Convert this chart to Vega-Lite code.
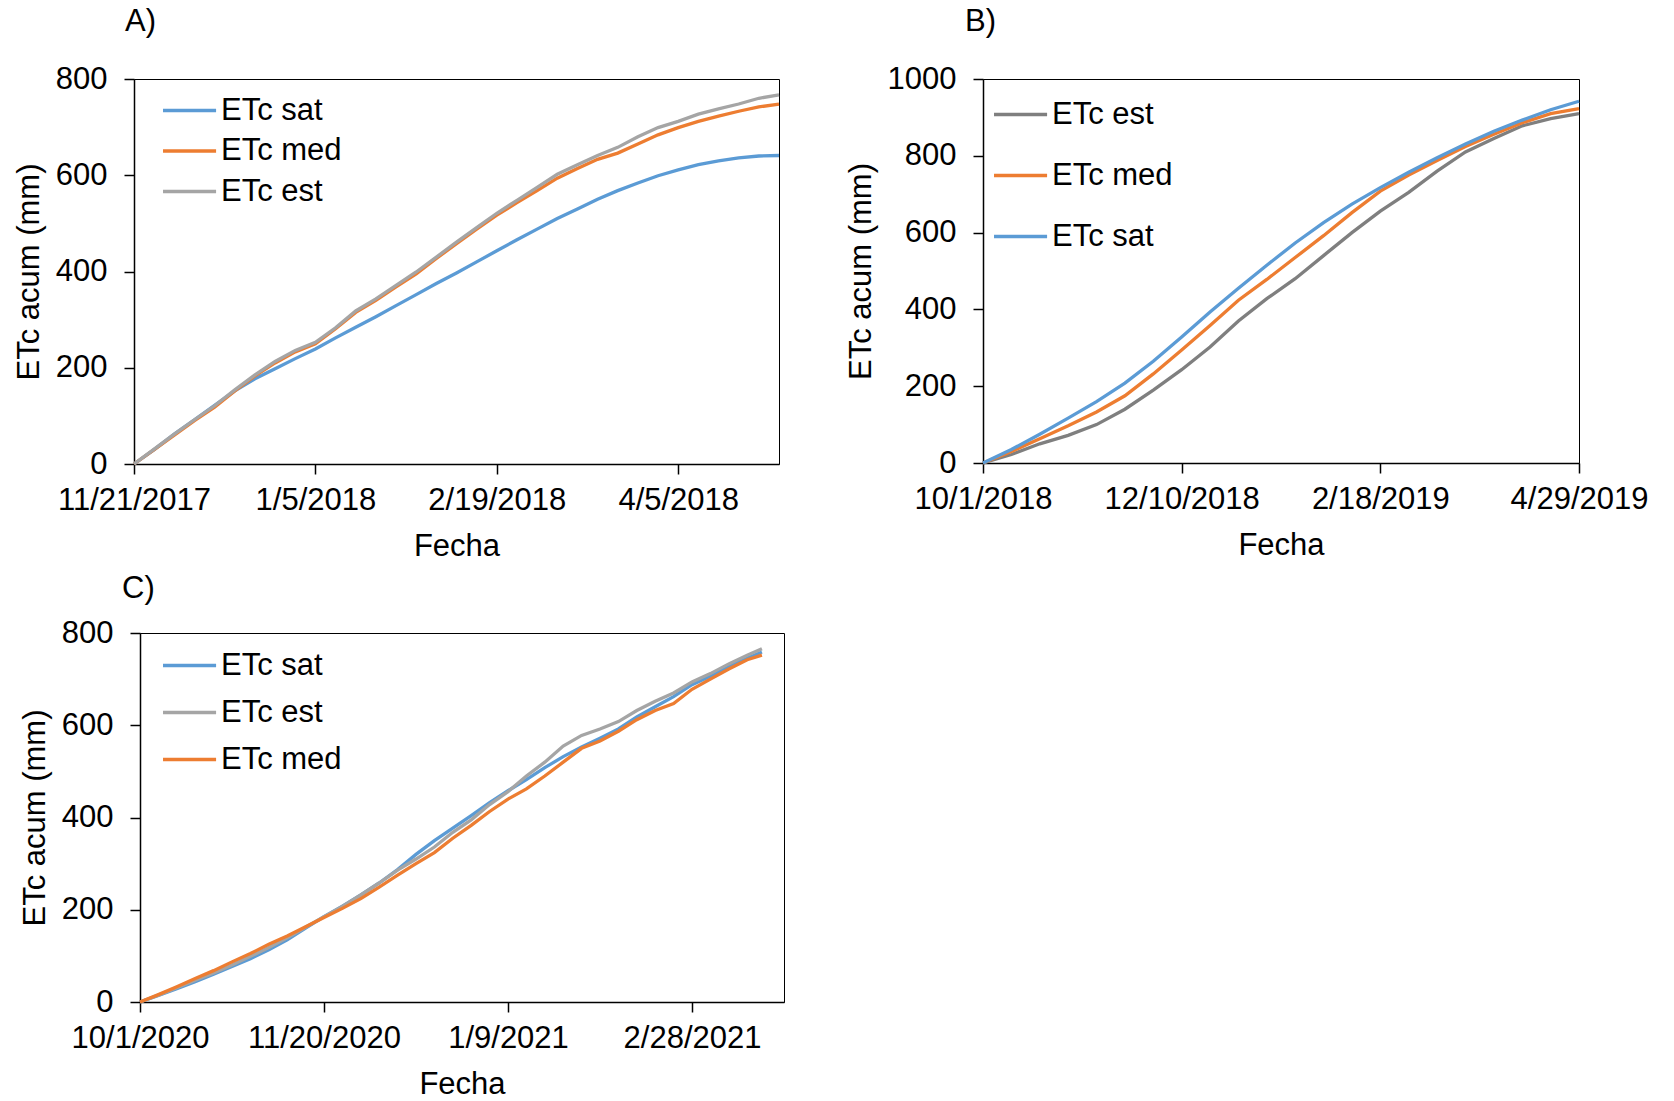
{
  "$schema": "https://vega.github.io/schema/vega-lite/v6.json",
  "background": "white",
  "padding": {"left": 10, "top": 5, "right": 5, "bottom": 5},
  "config": {
    "font": "Liberation Sans",
    "view": {"stroke": "black", "strokeWidth": 1},
    "axis": {"grid": false, "domainColor": "black", "domainWidth": 1.5, "tickColor": "black", "tickWidth": 1.5, "tickSize": 10, "labelFontSize": 31, "labelColor": "black", "titleFontSize": 31, "titleFontWeight": "normal", "titleColor": "black", "labelFont": "Liberation Sans", "titleFont": "Liberation Sans"},
    "axisX": {"labelPadding": 11, "titlePadding": 16, "labelFlush": false, "labelOverlap": false, "labelBound": false},
    "axisY": {"labelPadding": 17, "titlePadding": 10, "format": "d"},
    "legend": {"orient": "none", "symbolType": "M-5.5,0H2.5", "symbolSize": 176, "symbolStrokeWidth": 4, "labelFontSize": 31, "labelColor": "black", "labelFont": "Liberation Sans", "labelOffset": 6, "padding": 0, "labelLimit": 400},
    "title": {"fontSize": 31, "fontWeight": "normal", "anchor": "start", "frame": "group", "baseline": "alphabetic", "color": "black", "font": "Liberation Sans"},
    "line": {"strokeWidth": 3.3}
  },
  "datasets": {
    "A": [
      {"d": "2017/11/21", "ETc sat": 0, "ETc med": 0, "ETc est": 0},
      {"d": "2017/11/26", "ETc sat": 30, "ETc med": 30, "ETc est": 31},
      {"d": "2017/12/01", "ETc sat": 62, "ETc med": 60, "ETc est": 62},
      {"d": "2017/12/06", "ETc sat": 92, "ETc med": 90, "ETc est": 92},
      {"d": "2017/12/11", "ETc sat": 122, "ETc med": 118, "ETc est": 121},
      {"d": "2017/12/16", "ETc sat": 152, "ETc med": 152, "ETc est": 154},
      {"d": "2017/12/21", "ETc sat": 177, "ETc med": 183, "ETc est": 185},
      {"d": "2017/12/26", "ETc sat": 198, "ETc med": 210, "ETc est": 213},
      {"d": "2017/12/31", "ETc sat": 219, "ETc med": 233, "ETc est": 236},
      {"d": "2018/01/05", "ETc sat": 239, "ETc med": 250, "ETc est": 253},
      {"d": "2018/01/10", "ETc sat": 262, "ETc med": 281, "ETc est": 283},
      {"d": "2018/01/15", "ETc sat": 284, "ETc med": 315, "ETc est": 318},
      {"d": "2018/01/20", "ETc sat": 306, "ETc med": 340, "ETc est": 343},
      {"d": "2018/01/25", "ETc sat": 329, "ETc med": 368, "ETc est": 371},
      {"d": "2018/01/30", "ETc sat": 352, "ETc med": 395, "ETc est": 399},
      {"d": "2018/02/04", "ETc sat": 375, "ETc med": 427, "ETc est": 430},
      {"d": "2018/02/09", "ETc sat": 397, "ETc med": 458, "ETc est": 461},
      {"d": "2018/02/14", "ETc sat": 420, "ETc med": 488, "ETc est": 491},
      {"d": "2018/02/19", "ETc sat": 443, "ETc med": 517, "ETc est": 521},
      {"d": "2018/02/24", "ETc sat": 466, "ETc med": 543, "ETc est": 548},
      {"d": "2018/03/01", "ETc sat": 488, "ETc med": 568, "ETc est": 575},
      {"d": "2018/03/06", "ETc sat": 510, "ETc med": 594, "ETc est": 602},
      {"d": "2018/03/11", "ETc sat": 530, "ETc med": 614, "ETc est": 622},
      {"d": "2018/03/16", "ETc sat": 550, "ETc med": 633, "ETc est": 641},
      {"d": "2018/03/21", "ETc sat": 568, "ETc med": 646, "ETc est": 658},
      {"d": "2018/03/26", "ETc sat": 584, "ETc med": 665, "ETc est": 680},
      {"d": "2018/03/31", "ETc sat": 599, "ETc med": 684, "ETc est": 699},
      {"d": "2018/04/05", "ETc sat": 611, "ETc med": 699, "ETc est": 712},
      {"d": "2018/04/10", "ETc sat": 622, "ETc med": 712, "ETc est": 727},
      {"d": "2018/04/15", "ETc sat": 630, "ETc med": 723, "ETc est": 738},
      {"d": "2018/04/20", "ETc sat": 636, "ETc med": 733, "ETc est": 748},
      {"d": "2018/04/25", "ETc sat": 640, "ETc med": 742, "ETc est": 760},
      {"d": "2018/04/30", "ETc sat": 641, "ETc med": 748, "ETc est": 767}
    ],
    "B": [
      {"d": "2018/10/01", "ETc sat": 0, "ETc med": 0, "ETc est": 0},
      {"d": "2018/10/11", "ETc sat": 35, "ETc med": 30, "ETc est": 22},
      {"d": "2018/10/21", "ETc sat": 75, "ETc med": 63, "ETc est": 50},
      {"d": "2018/10/31", "ETc sat": 117, "ETc med": 97, "ETc est": 72},
      {"d": "2018/11/10", "ETc sat": 160, "ETc med": 133, "ETc est": 100},
      {"d": "2018/11/20", "ETc sat": 208, "ETc med": 175, "ETc est": 140},
      {"d": "2018/11/30", "ETc sat": 265, "ETc med": 232, "ETc est": 190},
      {"d": "2018/12/10", "ETc sat": 328, "ETc med": 294, "ETc est": 243},
      {"d": "2018/12/20", "ETc sat": 393, "ETc med": 358, "ETc est": 302},
      {"d": "2018/12/30", "ETc sat": 455, "ETc med": 424, "ETc est": 370},
      {"d": "2019/01/09", "ETc sat": 515, "ETc med": 478, "ETc est": 428},
      {"d": "2019/01/19", "ETc sat": 573, "ETc med": 535, "ETc est": 480},
      {"d": "2019/01/29", "ETc sat": 626, "ETc med": 592, "ETc est": 540},
      {"d": "2019/02/08", "ETc sat": 674, "ETc med": 652, "ETc est": 600},
      {"d": "2019/02/18", "ETc sat": 717, "ETc med": 708, "ETc est": 656},
      {"d": "2019/02/28", "ETc sat": 757, "ETc med": 750, "ETc est": 705},
      {"d": "2019/03/10", "ETc sat": 795, "ETc med": 788, "ETc est": 760},
      {"d": "2019/03/20", "ETc sat": 831, "ETc med": 824, "ETc est": 810},
      {"d": "2019/03/30", "ETc sat": 864, "ETc med": 856, "ETc est": 845},
      {"d": "2019/04/09", "ETc sat": 893, "ETc med": 886, "ETc est": 878},
      {"d": "2019/04/19", "ETc sat": 920, "ETc med": 910, "ETc est": 897},
      {"d": "2019/04/29", "ETc sat": 942, "ETc med": 923, "ETc est": 910}
    ],
    "C": [
      {"d": "2020/10/01", "ETc sat": 0, "ETc est": 0, "ETc med": 0},
      {"d": "2020/10/06", "ETc sat": 14, "ETc est": 15, "ETc med": 16},
      {"d": "2020/10/11", "ETc sat": 29, "ETc est": 31, "ETc med": 33},
      {"d": "2020/10/16", "ETc sat": 44, "ETc est": 47, "ETc med": 51},
      {"d": "2020/10/21", "ETc sat": 60, "ETc est": 63, "ETc med": 68},
      {"d": "2020/10/26", "ETc sat": 77, "ETc est": 80, "ETc med": 87},
      {"d": "2020/10/31", "ETc sat": 94, "ETc est": 99, "ETc med": 105},
      {"d": "2020/11/05", "ETc sat": 113, "ETc est": 118, "ETc med": 125},
      {"d": "2020/11/10", "ETc sat": 135, "ETc est": 139, "ETc med": 143},
      {"d": "2020/11/15", "ETc sat": 160, "ETc est": 162, "ETc med": 163},
      {"d": "2020/11/20", "ETc sat": 185, "ETc est": 185, "ETc med": 183},
      {"d": "2020/11/25", "ETc sat": 208, "ETc est": 207, "ETc med": 203},
      {"d": "2020/11/30", "ETc sat": 232, "ETc est": 232, "ETc med": 224},
      {"d": "2020/12/05", "ETc sat": 258, "ETc est": 258, "ETc med": 249},
      {"d": "2020/12/10", "ETc sat": 287, "ETc est": 286, "ETc med": 275},
      {"d": "2020/12/15", "ETc sat": 320, "ETc est": 310, "ETc med": 300},
      {"d": "2020/12/20", "ETc sat": 350, "ETc est": 336, "ETc med": 324},
      {"d": "2020/12/25", "ETc sat": 377, "ETc est": 368, "ETc med": 355},
      {"d": "2020/12/30", "ETc sat": 404, "ETc est": 395, "ETc med": 383},
      {"d": "2021/01/04", "ETc sat": 432, "ETc est": 428, "ETc med": 413},
      {"d": "2021/01/09", "ETc sat": 458, "ETc est": 456, "ETc med": 440},
      {"d": "2021/01/14", "ETc sat": 482, "ETc est": 490, "ETc med": 462},
      {"d": "2021/01/19", "ETc sat": 508, "ETc est": 520, "ETc med": 490},
      {"d": "2021/01/24", "ETc sat": 532, "ETc est": 555, "ETc med": 520},
      {"d": "2021/01/29", "ETc sat": 553, "ETc est": 578, "ETc med": 550},
      {"d": "2021/02/03", "ETc sat": 572, "ETc est": 592, "ETc med": 566},
      {"d": "2021/02/08", "ETc sat": 592, "ETc est": 608, "ETc med": 587},
      {"d": "2021/02/13", "ETc sat": 618, "ETc est": 632, "ETc med": 612},
      {"d": "2021/02/18", "ETc sat": 640, "ETc est": 652, "ETc med": 632},
      {"d": "2021/02/23", "ETc sat": 662, "ETc est": 670, "ETc med": 647},
      {"d": "2021/02/28", "ETc sat": 688, "ETc est": 694, "ETc med": 678},
      {"d": "2021/03/05", "ETc sat": 706, "ETc est": 712, "ETc med": 700},
      {"d": "2021/03/10", "ETc sat": 727, "ETc est": 733, "ETc med": 722},
      {"d": "2021/03/15", "ETc sat": 745, "ETc est": 752, "ETc med": 742},
      {"d": "2021/03/19", "ETc sat": 759, "ETc est": 766, "ETc med": 752}
    ]
  },
  "resolve": {"scale": {"color": "independent", "x": "independent", "y": "independent"}, "legend": {"color": "independent"}},
  "spacing": 10,
  "vconcat": [
    {
      "resolve": {"scale": {"color": "independent", "x": "independent", "y": "independent"}, "legend": {"color": "independent"}},
      "spacing": 0,
      "hconcat": [
        {
          "width": 2,
          "height": 10,
          "view": {"stroke": null},
          "data": {"values": [{"k": 0}]},
          "mark": {"type": "rect", "opacity": 0},
          "encoding": {}
        },
        {
          "resolve": {"scale": {"color": "independent", "x": "independent", "y": "independent"}, "legend": {"color": "independent"}},
          "spacing": 57,
          "hconcat": [
            {
              "width": 645,
              "height": 385,
              "title": {"text": "A)", "dx": -9, "offset": 25},
              "data": {"name": "A"},
              "transform": [{"fold": ["ETc sat", "ETc med", "ETc est"], "as": ["serie", "v"]}],
              "mark": {"type": "line"},
              "encoding": {
                "x": {"field": "d", "type": "temporal", "title": "Fecha",
                  "scale": {"domain": [{"year": 2017, "month": 11, "date": 21}, {"year": 2018, "month": 4, "date": 30}]},
                  "axis": {"format": "%-m/%-d/%Y", "values": [{"year": 2017, "month": 11, "date": 21}, {"year": 2018, "month": 1, "date": 5}, {"year": 2018, "month": 2, "date": 19}, {"year": 2018, "month": 4, "date": 5}]}},
                "y": {"field": "v", "type": "quantitative", "title": "ETc acum (mm)",
                  "scale": {"domain": [0, 800], "nice": false},
                  "axis": {"values": [0, 200, 400, 600, 800]}},
                "color": {"field": "serie", "type": "nominal",
                  "scale": {"domain": ["ETc sat", "ETc med", "ETc est"], "range": ["#5B9BD5", "#ED7D31", "#A5A5A5"]},
                  "legend": {"title": null, "legendX": 50, "legendY": 16, "rowPadding": 8.5}}
              }
            },
            {
              "width": 596,
              "height": 384,
              "title": {"text": "B)", "dx": -18, "offset": 25},
              "data": {"name": "B"},
              "transform": [{"fold": ["ETc est", "ETc med", "ETc sat"], "as": ["serie", "v"]}],
              "mark": {"type": "line"},
              "encoding": {
                "x": {"field": "d", "type": "temporal", "title": "Fecha",
                  "scale": {"domain": [{"year": 2018, "month": 10, "date": 1}, {"year": 2019, "month": 4, "date": 29}]},
                  "axis": {"format": "%-m/%-d/%Y", "values": [{"year": 2018, "month": 10, "date": 1}, {"year": 2018, "month": 12, "date": 10}, {"year": 2019, "month": 2, "date": 18}, {"year": 2019, "month": 4, "date": 29}]}},
                "y": {"field": "v", "type": "quantitative", "title": "ETc acum (mm)",
                  "scale": {"domain": [0, 1000], "nice": false},
                  "axis": {"values": [0, 200, 400, 600, 800, 1000]}},
                "color": {"field": "serie", "type": "nominal",
                  "scale": {"domain": ["ETc est", "ETc med", "ETc sat"], "range": ["#7F7F7F", "#ED7D31", "#5B9BD5"]},
                  "legend": {"title": null, "legendX": 32, "legendY": 20, "rowPadding": 29}}
              }
            }
          ]
        }
      ]
    },
    {
      "resolve": {"scale": {"color": "independent", "x": "independent", "y": "independent"}, "legend": {"color": "independent"}},
      "spacing": 0,
      "hconcat": [
        {
          "width": 8,
          "height": 10,
          "view": {"stroke": null},
          "data": {"values": [{"k": 0}]},
          "mark": {"type": "rect", "opacity": 0},
          "encoding": {}
        },
        {
          "width": 644,
          "height": 369,
          "title": {"text": "C)", "dx": -18, "offset": 12},
          "data": {"name": "C"},
          "transform": [{"fold": ["ETc sat", "ETc est", "ETc med"], "as": ["serie", "v"]}],
          "mark": {"type": "line"},
          "encoding": {
            "x": {"field": "d", "type": "temporal", "title": "Fecha",
              "scale": {"domain": [{"year": 2020, "month": 10, "date": 1}, {"year": 2021, "month": 3, "date": 25}]},
              "axis": {"format": "%-m/%-d/%Y", "values": [{"year": 2020, "month": 10, "date": 1}, {"year": 2020, "month": 11, "date": 20}, {"year": 2021, "month": 1, "date": 9}, {"year": 2021, "month": 2, "date": 28}]}},
            "y": {"field": "v", "type": "quantitative", "title": "ETc acum (mm)",
              "scale": {"domain": [0, 800], "nice": false},
              "axis": {"values": [0, 200, 400, 600, 800]}},
            "color": {"field": "serie", "type": "nominal",
              "scale": {"domain": ["ETc sat", "ETc est", "ETc med"], "range": ["#5B9BD5", "#A5A5A5", "#ED7D31"]},
              "legend": {"title": null, "legendX": 44, "legendY": 17, "rowPadding": 15}}
          }
        }
      ]
    }
  ]
}
